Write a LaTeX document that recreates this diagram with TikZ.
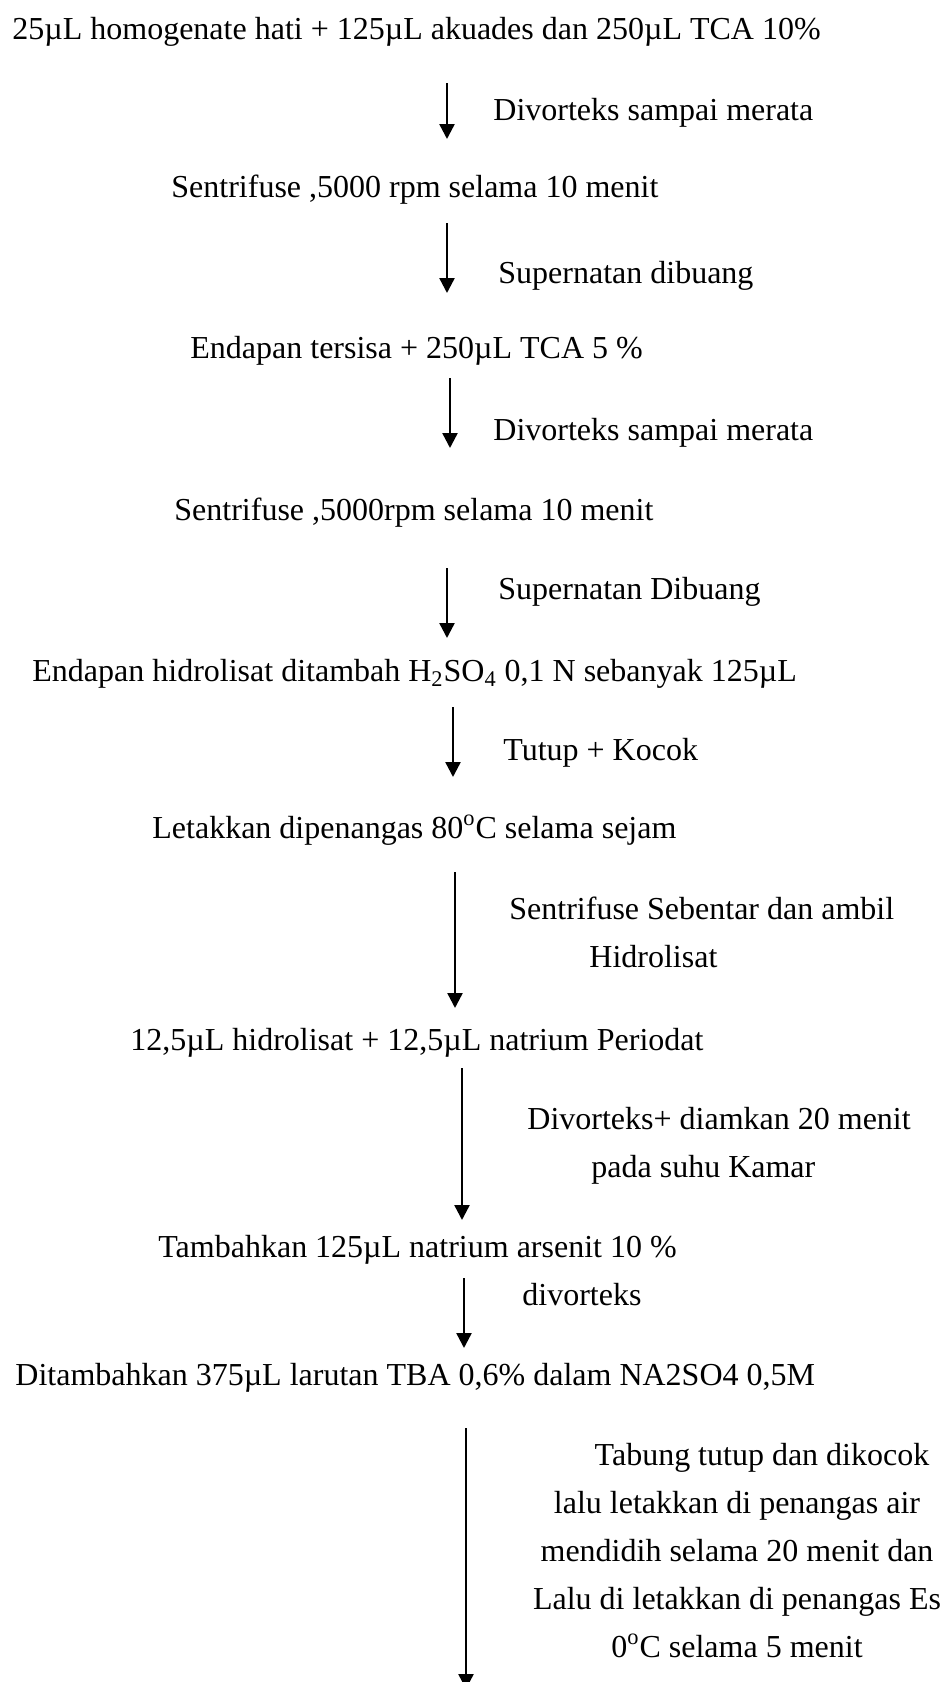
\documentclass[tikz,border=0pt]{standalone}
\usepackage{fontspec}
\setmainfont{Liberation Serif}
\usetikzlibrary{arrows.meta}

\begin{document}
\begin{tikzpicture}[x=0.5pt,y=-0.5pt,
  langkah/.style={anchor=base west,inner sep=0pt,font=\fontsize{16}{24}\selectfont},
  ket/.style={anchor=base west,inner sep=0pt,align=left,font=\fontsize{16}{24}\selectfont},
  panah/.style={line width=1.2pt,-{Triangle[length=7.5pt,width=7.5pt]}}]
  \clip (0,0) rectangle (942,1682);
  \node[langkah] (homogenat) at (12,39) {25µL homogenate hati + 125µL akuades dan 250µL TCA 10\%};
  \coordinate (a1) at (447,83); \coordinate (b1) at (447,139);
    \draw[panah] (a1) to (b1);
     \node[ket] (vorteks1) at (493,120) {Divorteks sampai merata};
  \node[langkah] (sentri1) at (171,197) {Sentrifuse ,5000 rpm selama 10 menit};
  \coordinate (a2) at (447,223); \coordinate (b2) at (447,293);
    \draw[panah] (a2) to (b2);
     \node[ket] (buang1) at (498,283) {Supernatan dibuang};
  \node[langkah] (endapan) at (190,358) {Endapan tersisa + 250µL TCA 5 \%};
  \coordinate (a3) at (450,378); \coordinate (b3) at (450,448);
    \draw[panah] (a3) to (b3);
     \node[ket] (vorteks2) at (493,440) {Divorteks sampai merata};
  \node[langkah] (sentri2) at (174,520) {Sentrifuse ,5000rpm selama 10 menit};
  \coordinate (a4) at (447,568); \coordinate (b4) at (447,638);
    \draw[panah] (a4) to (b4);
     \node[ket] (buang2) at (498,599) {Supernatan Dibuang};
  \node[langkah] (asam) at (32,681) {Endapan hidrolisat ditambah H\textsubscript{2}SO\textsubscript{4} 0,1 N sebanyak 125µL};
  \coordinate (a5) at (453,707); \coordinate (b5) at (453,777);
    \draw[panah] (a5) to (b5);
     \node[ket] (kocok) at (503,760) {Tutup + Kocok};
  \node[langkah] (penangas) at (152,838) {Letakkan dipenangas 80\textsuperscript{o}C selama sejam};
  \coordinate (a6) at (455,872); \coordinate (b6) at (455,1008);
    \draw[panah] (a6) to (b6);
     \node[ket] (ambil) at (509,967) {Sentrifuse Sebentar dan ambil\\\hspace*{40pt}Hidrolisat};
  \node[langkah] (periodat) at (130,1050) {12,5µL hidrolisat + 12,5µL natrium Periodat};
  \coordinate (a7) at (462,1068); \coordinate (b7) at (462,1220);
    \draw[panah] (a7) to (b7);
     \node[ket] (diamkan) at (527,1177) {Divorteks+ diamkan 20 menit\\\hspace*{32pt}pada suhu Kamar};
  \node[langkah] (arsenit) at (158,1257) {Tambahkan 125µL natrium arsenit 10 \%};
  \coordinate (a8) at (464,1278); \coordinate (b8) at (464,1348);
    \draw[panah] (a8) to (b8);
     \node[ket] (vorteks3) at (522,1305) {divorteks};
  \node[langkah] (tba) at (15,1385) {Ditambahkan 375µL larutan TBA 0,6\% dalam NA2SO4 0,5M};
  \coordinate (a9) at (466,1428); \coordinate (b9) at (466,1689);
    \draw[panah] (a9) to (b9);
     \node[ket,anchor=base,align=center] (dingin) at (737,1657) {\hspace*{25pt}Tabung tutup dan dikocok\\lalu letakkan di penangas air\\mendidih selama 20 menit dan\\Lalu di letakkan di penangas Es\\0\textsuperscript{o}C selama 5 menit};
\end{tikzpicture}
\end{document}
